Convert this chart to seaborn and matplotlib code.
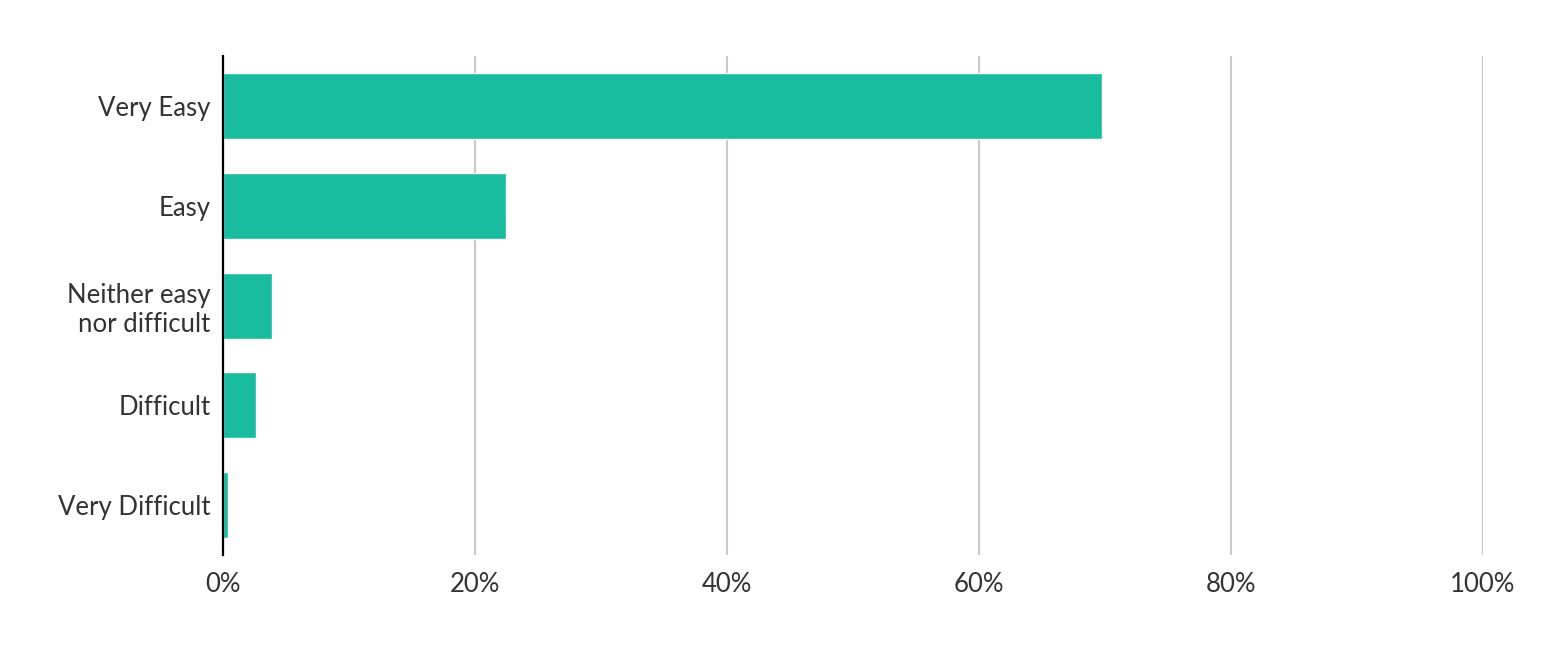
import pandas as pd
import seaborn as sns
import matplotlib.pyplot as plt

# answers and share of respondents (%)
answers = ["Very Easy", "Easy", "Neither easy\nnor difficult", "Difficult", "Very Difficult"]
shares = [69.8, 22.5, 3.9, 2.6, 0.4]
x_ticks = [0, 20, 40, 60, 80, 100]
x_labels = ["0%", "20%", "40%", "60%", "80%", "100%"]

df = pd.DataFrame({"answer": answers, "share": shares})

sns.set_theme(style="white")
plt.rcParams["font.family"] = ["Lato", "DejaVu Sans"]

fig = plt.figure(figsize=(15.48, 6.68), dpi=100)
ax = fig.add_axes([0.1439, 0.169, 0.8139, 0.747])

sns.barplot(data=df, x="share", y="answer", color="#1abc9f", saturation=1,
            width=0.66, orient="h", ax=ax, zorder=3)

ax.set_xlim(0, 100)
ax.set_ylim(4.5, -0.5)
ax.set_xticks(x_ticks)
ax.set_xticklabels(x_labels)
ax.set_xlabel("")
ax.set_ylabel("")

ax.grid(axis="x", color="#c8c8c8", linewidth=1.5, zorder=0)
ax.grid(axis="y", visible=False)
for s in ["top", "right", "bottom"]:
    ax.spines[s].set_visible(False)
ax.spines["left"].set_color("black")
ax.spines["left"].set_linewidth(1.6)
ax.spines["left"].set_zorder(4)

ax.tick_params(axis="both", length=0, labelsize=18.5, labelcolor="#333333")
ax.tick_params(axis="y", pad=9)
ax.tick_params(axis="x", pad=12)
for lbl in ax.get_yticklabels():
    lbl.set_horizontalalignment("right")
    lbl.set_multialignment("right")

fig.savefig("out.png", dpi=100, facecolor="white")
